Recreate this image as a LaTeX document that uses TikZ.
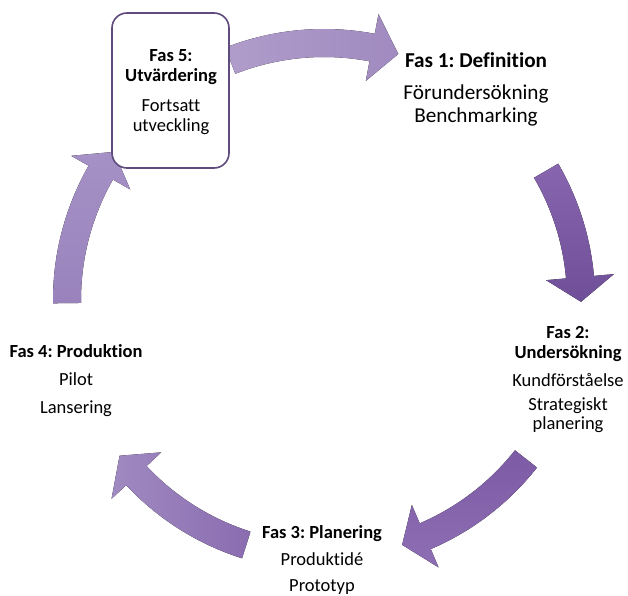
\documentclass[tikz,border=0pt]{standalone}
\usepackage{fontspec}
\setmainfont{Carlito}[Ligatures=NoCommon]
\usetikzlibrary{calc}
\frenchspacing
\definecolor{boxline}{HTML}{5F4B7C}
\definecolor{aTopL}{HTML}{B09DCB}
\definecolor{aTopR}{HTML}{A08ABF}
\definecolor{aRightT}{HTML}{8766AF}
\definecolor{aRightB}{HTML}{6F4F98}
\definecolor{aBRT}{HTML}{7C5BA5}
\definecolor{aBRB}{HTML}{8E6EB3}
\definecolor{aBLL}{HTML}{A08AC1}
\definecolor{aBLR}{HTML}{8A6CB0}
\definecolor{aLT}{HTML}{A591C5}
\definecolor{aLB}{HTML}{9A83BD}
\newcommand{\cycarrow}[4]{% #1 tail angle, #2 tip angle, #3 head length (deg), #4 style
  \fill[#4]
    ($(C)+({#1}:{\Rr+\ww})$) arc[start angle={#1}, end angle={#2+#3}, radius={\Rr+\ww}]
    -- ($(C)+({#2+#3}:{\Rr+\hh})$)
    -- ($(C)+({#2}:{\Rr})$)
    -- ($(C)+({#2+#3}:{\Rr-\hh})$)
    -- ($(C)+({#2+#3}:{\Rr-\ww})$)
    arc[start angle={#2+#3}, end angle={#1}, radius={\Rr-\ww}]
    -- cycle;}
\begin{document}
\begin{tikzpicture}[x=1pt,y=1pt,
  txt/.style={inner sep=0pt, anchor=base, font=\fontsize{18.5}{22}\selectfont},
  ttl/.style={txt, font=\fontsize{18.5}{22}\selectfont\bfseries},
  bigtxt/.style={inner sep=0pt, anchor=base, font=\fontsize{21.2}{25}\selectfont},
  bigttl/.style={bigtxt, font=\fontsize{21.2}{25}\selectfont\bfseries},
  phasebox/.style={draw=boxline, line width=1.6pt, fill=white, rounded corners=15pt}]
\useasboundingbox (0,0) rectangle (628,595);
\fill[white] (0,0) rectangle (628,595);
\coordinate (C) at (324,295);
\def\Rr{257}\def\ww{14}\def\hh{34}
% arrows
\cycarrow{111.4}{73.2}{6}{left color=aTopL, right color=aTopR}
\cycarrow{30.2}{-0.4}{5.5}{top color=aRightT, bottom color=aRightB}
\cycarrow{-38.2}{-72.3}{5.5}{top color=aBRT, bottom color=aBRB}
\cycarrow{252.4}{217.3}{5.8}{left color=aBLL, right color=aBLR}
\cycarrow{180.7}{144.8}{5.5}{top color=aLT, bottom color=aLB}
% Fas 5 box
\node[phasebox, minimum width=117pt, minimum height=155pt] (box5) at (170.5,504.5) {};
\node[ttl] (f5a) at (171,533) {Fas 5:};
\node[ttl] (f5b) at (171,513) {Utvärdering};
\node[txt] (f5c) at (171,483) {Fortsatt};
\node[txt] (f5d) at (171,463) {utveckling};
% Fas 1
\node[bigttl] (f1a) at (476,527) {Fas 1: Definition};
\node[bigtxt] (f1b) at (476,495) {Förundersökning};
\node[bigtxt] (f1c) at (476,472) {Benchmarking};
% Fas 2
\node[ttl] (f2a) at (568,257) {Fas 2:};
\node[ttl] (f2b) at (568,237) {Undersökning};
\node[txt] (f2c) at (568,209) {Kundförståelse};
\node[txt] (f2d) at (568,185) {Strategiskt};
\node[txt] (f2e) at (568,166) {planering};
% Fas 3
\node[ttl] (f3a) at (322,57) {Fas 3: Planering};
\node[txt] (f3b) at (322,30) {Produktidé};
\node[txt] (f3c) at (322,4) {Prototyp};
% Fas 4
\node[ttl] (f4a) at (76,238) {Fas 4: Produktion};
\node[txt] (f4b) at (76,210) {Pilot};
\node[txt] (f4c) at (76,182) {Lansering};
\end{tikzpicture}
\end{document}
